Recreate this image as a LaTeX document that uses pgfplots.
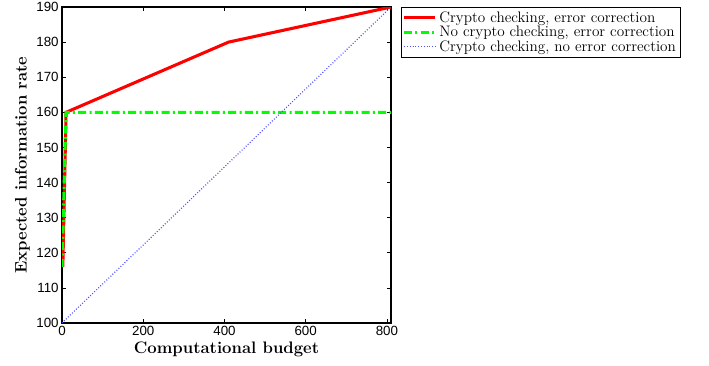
\documentclass[border=0pt]{standalone}
\usepackage{pgfplots}
\pgfplotsset{compat=1.18}
\usepackage{fontspec}
\newfontfamily\ticksf{Liberation Sans}
\begin{document}
\begin{tikzpicture}
\begin{axis}[
  name=ax,
  scale only axis,
  width=246.75pt, height=237pt,
  xmin=0, xmax=810, ymin=100, ymax=190,
  xtick={0,200,400,600,800},
  ytick={100,110,...,190},
  tick align=inside,
  tick pos=both,
  major tick length=3pt,
  axis line style={line width=0.8pt},
  every tick/.style={black, line width=0.5pt},
  /pgf/number format/assume math mode=true,
  tick label style={font=\ticksf\fontsize{10}{11}\selectfont},
  xticklabel style={yshift=1pt},
  yticklabel style={xshift=1pt},
  xlabel={Computational budget},
  ylabel={Expected information rate},
  label style={font=\fontsize{12.5}{14}\selectfont\bfseries},
  xlabel style={yshift=2pt},
  ylabel style={yshift=-2pt},
  legend style={at={(rel axis cs:1.030,1)}, anchor=north west,
    draw=black, line width=0.6pt, font=\fontsize{11.4}{12}\selectfont,
    inner sep=1pt, row sep=-2.6pt,
    legend cell align=left},
  legend image code/.code={\draw[#1] (0cm,0cm) -- (0.82cm,0cm);},
]
\addplot[red, line width=2.3pt] coordinates {(2,116) (10,160) (410,180) (810,190)};
\addlegendentry{Crypto checking, error correction}
\addplot[green, line width=2.3pt, dash pattern=on 6pt off 2.5pt on 1.5pt off 2.5pt] coordinates {(0,116) (10,160) (810,160)};
\addlegendentry{No crypto checking, error correction}
\addplot[color={rgb,255:red,80;green,80;blue,255}, line width=0.9pt, dash pattern=on 0.7pt off 1.4pt] coordinates {(0,100) (810,190)};
\addlegendentry{Crypto checking, no error correction}
\coordinate (O) at (rel axis cs:0,0);
\end{axis}
\pgfresetboundingbox
\useasboundingbox (O) ++(-46.5pt,-32.25pt) rectangle ++(531.75pt,274.5pt);
\end{tikzpicture}
\end{document}
